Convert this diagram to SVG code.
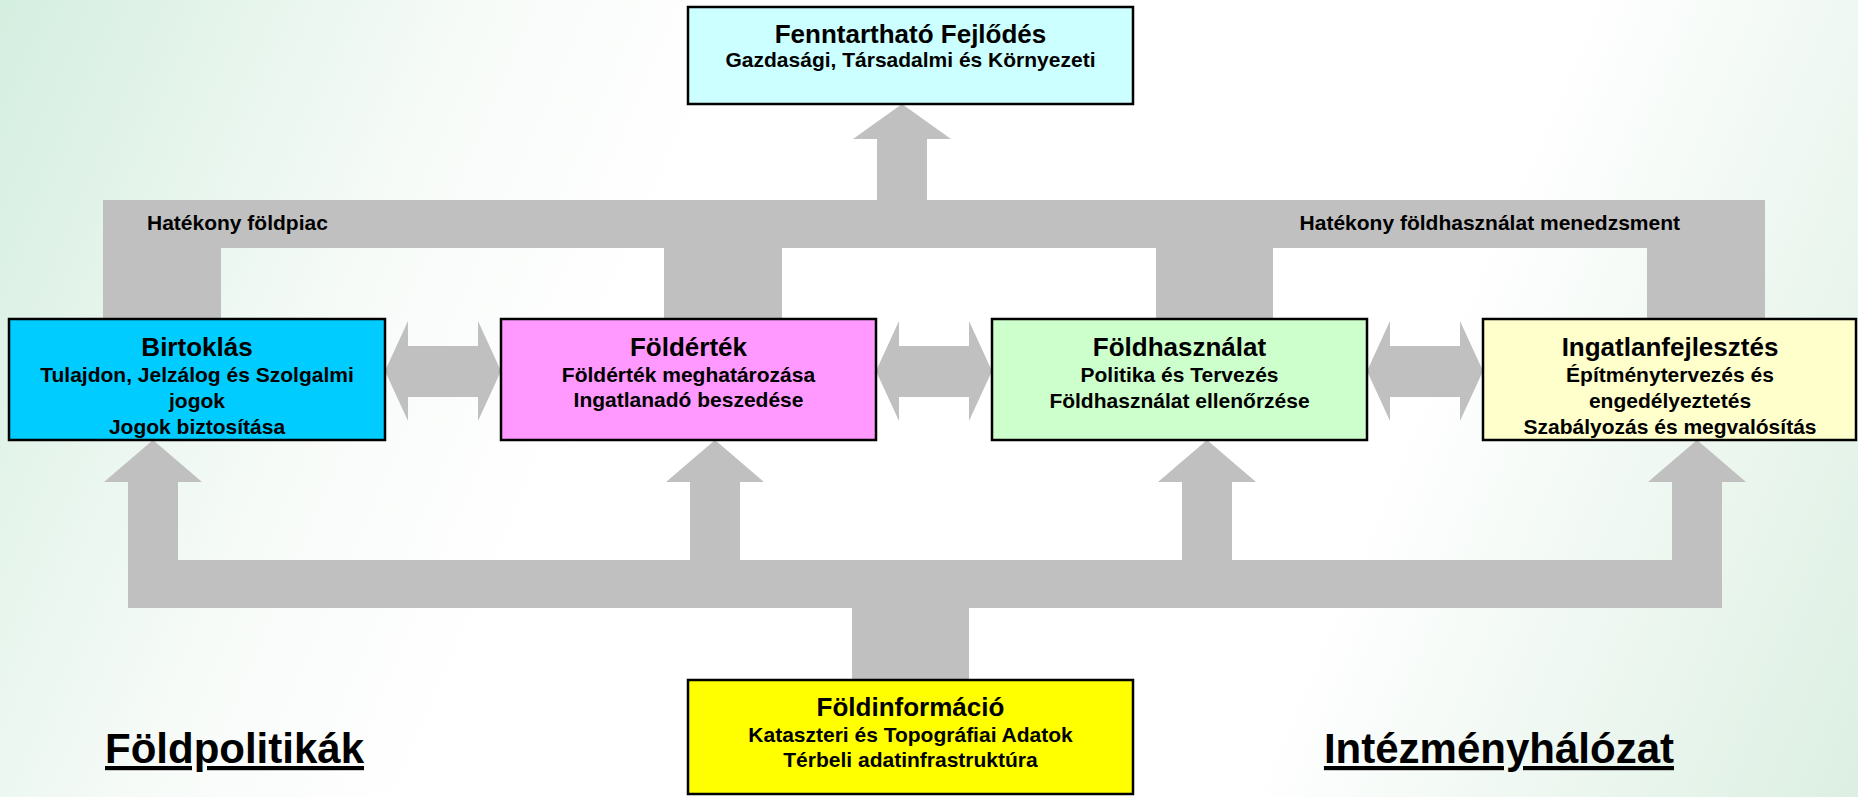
<svg xmlns="http://www.w3.org/2000/svg" width="1858" height="797" viewBox="0 0 1858 797">
<defs>
<linearGradient id="bg" gradientUnits="userSpaceOnUse" x1="0" y1="0" x2="1858" y2="797">
<stop offset="0" stop-color="#d4eee0"/>
<stop offset="0.22" stop-color="#f7fbf8"/>
<stop offset="0.35" stop-color="#ffffff"/>
<stop offset="0.72" stop-color="#ffffff"/>
<stop offset="1" stop-color="#dcefe2"/>
</linearGradient>
<style>
.box{stroke:#000;stroke-width:2.5}
.conn{fill:#c0c0c0;stroke:none}
text{font-family:"Liberation Sans",Arial,sans-serif;font-weight:bold;fill:#000}
.t{font-size:26px;text-anchor:middle}
.s{font-size:21px;text-anchor:middle}
.lbl{font-size:21px}
.big{font-size:42px;text-decoration:underline}
</style>
</defs>
<rect x="0" y="0" width="1858" height="797" fill="url(#bg)"/>
<g id="connectors">
<polygon class="conn" points="902,104 951,139 927,139 927,200 877,200 877,139 853,139"/>
<rect class="conn" x="103" y="200" width="1662" height="48"/>
<rect class="conn" x="103" y="247" width="118" height="73"/>
<rect class="conn" x="664" y="247" width="118" height="73"/>
<rect class="conn" x="1156" y="247" width="117" height="73"/>
<rect class="conn" x="1647" y="247" width="118" height="73"/>
<rect class="conn" x="128" y="560" width="1594" height="48"/>
<rect class="conn" x="852" y="607" width="117" height="74"/>
<polygon class="conn" points="153,440 202,482 178,482 178,561 128,561 128,482 104,482"/>
<polygon class="conn" points="715,440 764,482 740,482 740,561 690,561 690,482 666,482"/>
<polygon class="conn" points="1207,440 1256,482 1232,482 1232,561 1182,561 1182,482 1158,482"/>
<polygon class="conn" points="1697,440 1746,482 1722,482 1722,561 1672,561 1672,482 1648,482"/>
<polygon class="conn" points="385,371 408,321 408,346 478,346 478,321 501,371 478,421 478,397 408,397 408,421"/>
<polygon class="conn" points="876,371 899,321 899,346 969,346 969,321 992,371 969,421 969,397 899,397 899,421"/>
<polygon class="conn" points="1367,371 1390,321 1390,346 1460,346 1460,321 1483,371 1460,421 1460,397 1390,397 1390,421"/>
<text class="lbl" x="147" y="230">Hatékony földpiac</text>
<text class="lbl" x="1680" y="230" text-anchor="end">Hatékony földhasználat menedzsment</text>
</g>
<g id="fenntarthato">
<rect class="box" x="688" y="7" width="445" height="97" fill="#ccffff"/>
<text class="t" x="910.5" y="42.5">Fenntartható Fejlődés</text>
<text class="s" x="910.5" y="67">Gazdasági, Társadalmi és Környezeti</text>
</g>
<g id="birtoklas">
<rect class="box" x="9" y="319" width="376" height="121" fill="#00ccff"/>
<text class="t" x="197" y="356">Birtoklás</text>
<text class="s" x="197" y="382">Tulajdon, Jelzálog és Szolgalmi</text>
<text class="s" x="197" y="408">jogok</text>
<text class="s" x="197" y="434">Jogok biztosítása</text>
</g>
<g id="folderték">
<rect class="box" x="501" y="319" width="375" height="121" fill="#ff99ff"/>
<text class="t" x="688.5" y="356">Földérték</text>
<text class="s" x="688.5" y="382">Földérték meghatározása</text>
<text class="s" x="688.5" y="407">Ingatlanadó beszedése</text>
</g>
<g id="foldhasznalat">
<rect class="box" x="992" y="319" width="375" height="121" fill="#ccffcc"/>
<text class="t" x="1179.5" y="356">Földhasználat</text>
<text class="s" x="1179.5" y="382">Politika és Tervezés</text>
<text class="s" x="1179.5" y="408">Földhasználat ellenőrzése</text>
</g>
<g id="ingatlanfejlesztes">
<rect class="box" x="1483" y="319" width="373" height="121" fill="#ffffcc"/>
<text class="t" x="1670" y="356">Ingatlanfejlesztés</text>
<text class="s" x="1670" y="382">Építménytervezés és</text>
<text class="s" x="1670" y="408">engedélyeztetés</text>
<text class="s" x="1670" y="434">Szabályozás és megvalósítás</text>
</g>
<g id="foldinformacio">
<rect class="box" x="688" y="680" width="445" height="114" fill="#ffff00"/>
<text class="t" x="910.5" y="716">Földinformáció</text>
<text class="s" x="910.5" y="742">Kataszteri és Topográfiai Adatok</text>
<text class="s" x="910.5" y="767">Térbeli adatinfrastruktúra</text>
</g>
<g id="foldpolitikak">
<text class="big" x="105" y="763">Földpolitikák</text>
</g>
<g id="intezmenyhalozat">
<text class="big" x="1674" y="763" text-anchor="end">Intézményhálózat</text>
</g>
</svg>
